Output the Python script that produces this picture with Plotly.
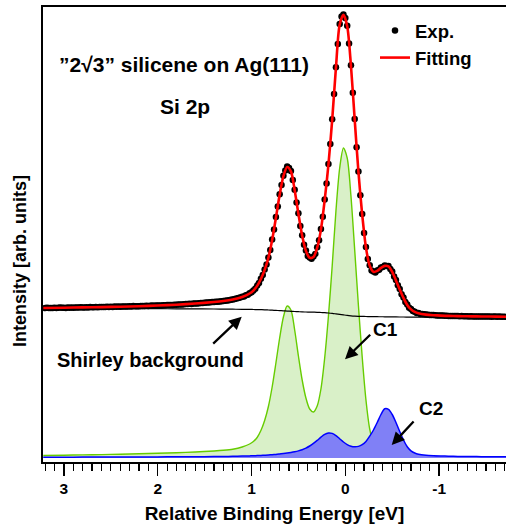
import plotly.graph_objects as go

# ---------------- data ----------------
# Component / fit grid (relative binding energy, eV)
energy = [3.22, 3.0, 2.8, 2.6, 2.4, 2.2, 2.0, 1.8, 1.6, 1.4, 1.3, 1.2, 1.1,
          1.02, 0.98, 0.94, 0.90, 0.86, 0.82, 0.78, 0.74, 0.70, 0.66, 0.62, 0.58,
          0.54, 0.50, 0.46, 0.42, 0.38, 0.34, 0.30, 0.26, 0.22, 0.18, 0.14, 0.10,
          0.06, 0.02, -0.02, -0.06, -0.10, -0.14, -0.18, -0.22, -0.26, -0.30, -0.34,
          -0.38, -0.42, -0.46, -0.50, -0.54, -0.58, -0.62, -0.66, -0.70, -0.74, -0.78,
          -0.86, -0.94, -1.02, -1.1, -1.2, -1.3, -1.4, -1.5, -1.6, -1.72]

fitting = [150.0, 150.3, 150.6, 150.9, 151.3, 151.8, 152.5, 153.3, 154.5, 156.0, 157.0, 158.5, 161.0,
           164.5, 167.4, 172.1, 179.0, 188.1, 200.2, 218.0, 240.3, 263.2, 281.8, 291.0, 286.6,
           267.8, 244.2, 222.3, 207.1, 200.2, 201.0, 210.3, 228.4, 257.9, 293.4, 338.2, 390.3,
           433.5, 443.2, 431.8, 392.3, 338.4, 286.0, 243.4, 210.4, 192.3, 186.2, 187.1,
           190.2, 192.1, 191.6, 186.1, 177.6, 168.6, 160.1, 153.1, 148.6, 146.1, 144.7,
           143.4, 142.8, 142.4, 142.1, 141.9, 141.7, 141.6, 141.5, 141.4, 141.3]

c1 = [2.5, 2.8, 3.1, 3.4, 3.8, 4.2, 4.7, 5.3, 6.0, 7.0, 7.7, 8.8, 11.0,
      14.0, 16.5, 20.5, 27.5, 37.5, 51.5, 71.0, 95.0, 120.0, 141.0, 152.0, 148.0,
      128.0, 102.0, 78.0, 60.0, 49.0, 46.0, 52.0, 69.0, 100.0, 142.0, 192.0, 247.0,
      290.0, 310.0, 300.0, 262.0, 208.0, 152.0, 101.0, 58.0, 29.0, 15.0, 9.0,
      6.0, 4.5, 3.6, 3.0, 2.6, 2.3, 2.1, 1.9, 1.8, 1.7, 1.6,
      1.5, 1.4, 1.3, 1.2, 1.1, 1.0, 0.95, 0.9, 0.85, 0.8]

c2 = [0.8, 0.85, 0.9, 0.95, 1.0, 1.05, 1.1, 1.2, 1.3, 1.45, 1.55, 1.7, 1.9,
      2.1, 2.2, 2.4, 2.6, 2.8, 3.0, 3.3, 3.6, 4.0, 4.4, 4.9, 5.5,
      6.2, 7.1, 8.3, 9.9, 12.0, 14.6, 17.6, 20.8, 23.6, 25.0, 24.6, 22.4,
      19.2, 16.0, 13.4, 11.8, 11.2, 11.6, 13.3, 16.6, 21.8, 28.0, 35.5,
      43.5, 49.2, 48.6, 43.5, 35.5, 26.5, 18.0, 11.3, 7.2, 5.0, 3.8,
      2.8, 2.3, 2.0, 1.8, 1.6, 1.5, 1.4, 1.35, 1.3, 1.25]

shirley = [149.6, 149.6, 149.5, 149.5, 149.4, 149.4, 149.3, 149.2, 149.1, 149.0, 148.9, 148.8, 148.7,
           148.6, 148.5, 148.4, 148.3, 148.2, 148.0, 147.8, 147.6, 147.4, 147.2, 146.9, 146.7,
           146.5, 146.3, 146.1, 146.0, 145.9, 145.8, 145.7, 145.5, 145.3, 145.0, 144.6, 144.1,
           143.6, 143.1, 142.6, 142.2, 141.9, 141.7, 141.6, 141.5, 141.4, 141.35, 141.3,
           141.25, 141.2, 141.15, 141.1, 141.05, 141.0, 141.0, 140.95, 140.9, 140.9, 140.9,
           140.85, 140.8, 140.8, 140.8, 140.75, 140.7, 140.7, 140.7, 140.65, 140.6]

# Experimental points: first energy 3.20 eV, step -0.02 eV (246 points)
exp_start = 3.20
exp_step = -0.02
exp_counts = [
    150.0, 150.2, 149.9, 150.1, 150.0, 150.3, 150.1, 150.2, 150.4, 150.2,
    150.3, 150.1, 150.4, 150.3, 150.5, 150.3, 150.6, 150.4, 150.5, 150.7,
    150.6, 150.5, 150.8, 150.6, 150.9, 150.7, 150.8, 151.0, 150.8, 151.0,
    150.9, 151.1, 150.9, 151.2, 151.0, 151.3, 151.1, 151.4, 151.2, 151.4,
    151.3, 151.5, 151.4, 151.6, 151.5, 151.8, 151.6, 151.9, 151.7, 151.8,
    151.8, 152.0, 151.9, 152.1, 152.2, 152.0, 152.3, 152.4, 152.2, 152.5,
    152.5, 152.6, 152.5, 152.8, 152.7, 153.0, 152.9, 153.1, 153.0, 153.3,
    153.3, 153.4, 153.6, 153.5, 153.8, 153.9, 154.0, 154.2, 154.1, 154.4,
    154.5, 154.6, 154.8, 154.9, 155.1, 155.2, 155.5, 155.5, 155.8, 155.9,
    156.0, 156.3, 156.3, 156.6, 156.8, 157.0, 157.2, 157.6, 157.8, 158.2,
    158.5, 158.9, 159.4, 159.9, 160.5,
    161.2, 161.6, 162.8, 163.3, 164.8, 165.7, 167.6, 169.3, 172.4, 175.0,
    179.3, 182.9, 188.4, 193.4, 200.6, 208.1, 218.5, 228.4, 240.9, 251.5,
    263.7, 273.0, 282.3, 287.4, 291.4, 290.1, 287.1, 277.9, 268.3, 255.5,
    244.7, 232.1, 222.8, 213.3, 207.5, 202.1, 200.6, 199.2, 201.4, 204.1,
    210.8, 217.7, 228.9, 241.3, 258.4, 274.5, 293.9, 314.0, 338.7, 364.0,
    390.8, 414.1, 434.0, 441.5, 443.6, 440.0, 432.3, 414.4, 392.8, 365.3,
    338.9, 310.7, 286.5, 262.7, 243.9, 225.0, 210.9, 199.1, 192.8, 187.5,
    186.6, 185.6, 187.5, 188.2, 190.6, 191.0, 192.5, 191.9, 192.0, 189.0,
    186.5, 181.6, 178.0, 172.7, 169.0, 163.8, 160.5, 155.9, 153.4, 150.2,
    148.9, 146.9, 146.3, 145.1, 144.9, 144.1,
    144.0, 143.7, 143.5, 143.3, 143.1, 142.9, 142.9, 142.7, 142.6, 142.5,
    142.4, 142.4, 142.2, 142.3, 142.1, 142.1, 142.0, 142.1, 141.9, 141.9,
    141.8, 141.9, 141.7, 141.8, 141.7, 141.6, 141.7, 141.6, 141.5, 141.6,
    141.5, 141.6, 141.4, 141.5, 141.5, 141.4, 141.5, 141.3, 141.4, 141.4,
    141.3, 141.4, 141.3, 141.3, 141.2,
]

x_tick_values = [3, 2, 1, 0, -1]
x_tick_labels = ["3", "2", "1", "0", "-1"]

# ---------------- figure ----------------
FONT = "Liberation Sans, Arial, Helvetica, sans-serif"
W, H = 506, 527
L, R, T, B = 43, 0, 7, 65
PW, PH = W - L - R, H - T - B


def px(xp):
    return (xp - L) / PW


def py(yp):
    return (H - B - yp) / PH


fig = go.Figure()

fig.add_trace(go.Scatter(
    x=energy, y=c1, mode="lines", line=dict(color="#66cc00", width=1.4, shape="spline", smoothing=0.8),
    fill="tozeroy", fillcolor="#d9f0c8", showlegend=False, name="C1"))
fig.add_trace(go.Scatter(
    x=energy, y=c2, mode="lines", line=dict(color="#0000ff", width=1.5, shape="spline", smoothing=0.8),
    fill="tozeroy", fillcolor="#8080f6", showlegend=False, name="C2"))
fig.add_trace(go.Scatter(
    x=energy, y=shirley, mode="lines", line=dict(color="black", width=1.2, shape="spline"),
    showlegend=False, name="Shirley background"))
fig.add_trace(go.Scatter(
    x0=exp_start, dx=exp_step, y=exp_counts, mode="markers",
    marker=dict(color="black", size=6.5), name="Exp."))
fig.add_trace(go.Scatter(
    x=energy, y=fitting, mode="lines", line=dict(color="#ff0000", width=2.6, shape="spline", smoothing=0.8),
    name="Fitting"))

bold = dict(family=FONT, color="black", weight="bold")

fig.update_layout(
    width=W, height=H,
    margin=dict(l=L, r=R, t=T, b=B, pad=0, autoexpand=False),
    paper_bgcolor="white", plot_bgcolor="white",
    font=dict(family=FONT, color="black"),
    showlegend=True,
    legend=dict(x=px(375), y=py(12), xanchor="left", yanchor="top",
                bgcolor="rgba(0,0,0,0)", borderwidth=0,
                font=dict(size=18.5, **bold), tracegroupgap=0),
    xaxis=dict(
        range=[3.223, -1.713], showgrid=False, zeroline=False,
        showline=True, linecolor="black", linewidth=1.6, mirror=True,
        tickmode="array", tickvals=x_tick_values, ticktext=x_tick_labels,
        ticks="outside", ticklen=12, tickwidth=1.4, tickcolor="black",
        tickfont=dict(size=15.5, **bold),
        minor=dict(dtick=0.1, tick0=0, ticks="outside", ticklen=7, tickwidth=1.2,
                   tickcolor="black", showgrid=False),
        title=dict(text="Relative Binding Energy [eV]", font=dict(size=19, **bold), standoff=10),
    ),
    yaxis=dict(
        range=[-4, 451], showgrid=False, zeroline=False,
        showline=True, linecolor="black", linewidth=1.6, mirror=False,
        ticks="", showticklabels=False,
    ),
)

annotations = [
    dict(text="\u201d2\u221a3\u201d silicene on Ag(111)", x=px(184), y=py(64),
         font=dict(size=21, **bold)),
    dict(text="Si 2p", x=px(185), y=py(106), font=dict(size=21, **bold)),
    dict(text="Shirley background", x=px(150), y=py(360), font=dict(size=20, **bold)),
    dict(text="C1", x=px(385), y=py(330), font=dict(size=19, **bold)),
    dict(text="C2", x=px(431), y=py(408), font=dict(size=19, **bold)),
    dict(text="Intensity [arb. units]", x=px(20), y=py(261), textangle=-90,
         font=dict(size=18, **bold)),
]
for a in annotations:
    fig.add_annotation(xref="paper", yref="paper", showarrow=False,
                       xanchor="center", yanchor="middle", **a)

arrows = [
    ((241.7, 316.7), (211.7, 345.0)),
    ((345.0, 359.3), (371.7, 333.3)),
    ((391.7, 445.0), (415.0, 420.0)),
]
for (hx, hy), (tx, ty) in arrows:
    fig.add_annotation(xref="paper", yref="paper", x=px(hx), y=py(hy),
                       ax=tx - hx, ay=ty - hy, axref="pixel", ayref="pixel",
                       text="", showarrow=True, arrowhead=2, arrowsize=1.1,
                       arrowwidth=2.3, arrowcolor="black", standoff=0)

fig.write_html(
    "out.html",
    config={"displayModeBar": False, "staticPlot": True},
    post_script="document.body.style.margin='0';document.body.style.overflow='hidden';",
)
